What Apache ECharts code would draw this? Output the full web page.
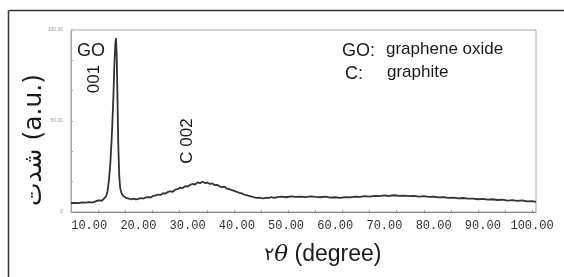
<!DOCTYPE html>
<html>
<head>
<meta charset="utf-8">
<script src="https://cdn.jsdelivr.net/npm/echarts@6/dist/echarts.min.js"></script>
<style>
  html, body { margin: 0; padding: 0; background: #fff; }
  #chart { width: 564px; height: 277px; }
</style>
</head>
<body>
<div id="chart"></div>
<script>
// 2-theta positions and intensity
const twoTheta = [
  6.3, 7, 7.8, 8.5, 9.2, 10, 10.7, 11.3, 11.8, 12.2, 12.6, 13.0, 13.4, 13.7, 14.0, 14.3, 14.6, 14.9,
  15.1, 15.3, 15.45, 15.6, 15.75, 15.9, 16.1, 16.3, 16.6, 17.0, 17.5, 18.0, 18.5, 19.0, 19.5, 20.0,
  20.5, 21, 21.5, 22, 22.5, 23, 23.5, 24, 24.5, 25, 25.5, 26, 26.5, 27, 27.5, 28, 28.5, 29, 29.5, 30,
  30.5, 31, 31.5, 32, 32.5, 33, 33.5, 34, 34.5, 35, 35.5, 36, 36.5, 37, 37.5, 38, 38.5, 39, 39.5, 40,
  40.5, 41, 41.5, 42, 42.5, 43, 43.5, 44, 44.5, 45, 45.5, 46, 46.5, 47, 47.5, 48, 49, 50, 51, 52, 53,
  54, 55, 56, 57, 58, 59, 60, 61, 62, 63, 64, 65, 66, 67, 68, 69, 70, 71, 72, 73, 74, 75, 76, 77, 78,
  79, 80, 81, 82, 83, 84, 85, 86, 87, 88, 89, 90, 91, 92, 93, 94, 95, 96, 97, 98, 99, 100, 100.8
];
const intensity = [
  4.8, 5.0, 4.9, 5.3, 5.1, 5.4, 5.3, 5.8, 6.4, 7.2, 6.3, 7.0, 8.5, 11, 17, 27, 42, 62,
  80, 92, 95.5, 85, 62, 38, 20, 13, 10, 8.6, 7.8, 7.4, 7.0, 7.3, 6.9, 7.2,
  7.6, 7.4, 8.0, 8.2, 8.0, 8.9, 9.1, 9.6, 9.4, 10.3, 10.1, 11.0, 11.4, 11.1, 12.3, 12.6, 13.4, 13.1, 14.2, 14.0,
  14.9, 15.4, 15.0, 16.3, 15.8, 16.6, 15.9, 16.2, 15.4, 15.7, 14.8, 14.9, 14.1, 13.6, 13.9, 12.8, 12.5, 12.0, 11.6, 11.1,
  10.5, 10.2, 9.6, 9.3, 8.8, 8.5, 8.1, 7.8, 7.9, 7.6, 7.5, 7.9, 7.7, 8.2, 7.8, 8.0, 8.4, 8.1, 8.6, 8.3, 8.5,
  8.2, 8.6, 8.3, 8.1, 8.4, 7.9, 8.1, 7.8, 8.2, 8.0, 8.4, 8.3, 8.7, 8.5, 8.9, 8.7, 9.1, 8.8, 9.2, 8.9, 9.0, 8.7, 8.9, 8.5, 8.7,
  8.3, 8.4, 8.0, 8.2, 7.8, 7.9, 7.5, 7.7, 7.3, 7.4, 7.0, 7.2, 6.8, 7.0, 6.6, 6.8, 6.3, 6.5, 6.1, 6.4, 5.8, 6.0, 5.6
];
const xLabels = [10, 20, 30, 40, 50, 60, 70, 80, 90, 100];
const xTicks = [11.8, 17.3, 22.9, 28.4, 33.9, 39.4, 44.9, 50.4, 55.9, 61.4, 66.9, 72.4, 78.0, 83.5, 89.0, 94.5, 100];
const yLabels = [0, 50, 100];
const yTicks = [0, 16.67, 33.33, 50, 66.67, 83.33, 100];

const chart = echarts.init(document.getElementById("chart"), null, { renderer: "canvas" });

const txt = "#1a1a1a";
const sans = "Liberation Sans, Arial, sans-serif";

const option = {
  backgroundColor: "#fff",
  animation: false,
  grid: {
    left: 71, top: 30, right: 28, bottom: 65,
    show: true, borderColor: "#a8a8a8", borderWidth: 1
  },
  xAxis: {
    type: "value",
    min: 6.3,
    max: 100.8,
    axisLine: { show: true, lineStyle: { color: "#8a8a8a", width: 1 } },
    axisTick: { show: true, inside: true, length: 2, customValues: xTicks, lineStyle: { color: "#999" } },
    splitLine: { show: false },
    axisLabel: {
      customValues: xLabels,
      formatter: (v) => v.toFixed(2),
      fontFamily: "Liberation Mono, monospace",
      fontSize: 12,
      color: "#333",
      margin: 8
    }
  },
  yAxis: {
    type: "value",
    min: 0,
    max: 100,
    axisLine: { show: true, lineStyle: { color: "#a8a8a8", width: 1 } },
    axisTick: { show: true, inside: true, length: 2, customValues: yTicks, lineStyle: { color: "#aaa" } },
    splitLine: { show: false },
    axisLabel: {
      customValues: yLabels,
      formatter: (v) => (v === 0 ? "0" : v.toFixed(2)),
      fontSize: 5,
      color: "#999",
      margin: 8
    }
  },
  series: [
    {
      type: "line",
      data: twoTheta.map((t, i) => [t, intensity[i]]),
      showSymbol: false,
      lineStyle: { color: "#333", width: 1.8 }
    }
  ],
  graphic: [
    {
      type: "line", silent: true,
      shape: { x1: 8.5, y1: 10.5, x2: 564, y2: 10.5 },
      style: { stroke: "#333", lineWidth: 1.5 }
    },
    {
      type: "line", silent: true,
      shape: { x1: 8.5, y1: 10.5, x2: 8.5, y2: 277 },
      style: { stroke: "#333", lineWidth: 1.5 }
    },
    {
      type: "text", left: 77, top: 42,
      style: { text: "GO", font: "18px " + sans, fill: txt }
    },
    {
      type: "text", x: 94, y: 79, rotation: Math.PI / 2,
      style: { text: "001", font: "17px " + sans, fill: txt, align: "center", verticalAlign: "middle" }
    },
    {
      type: "text", x: 187, y: 141, rotation: Math.PI / 2,
      style: { text: "C 002", font: "17px " + sans, fill: txt, align: "center", verticalAlign: "middle" }
    },
    {
      type: "text", x: 342, y: 51,
      style: { text: "GO:", font: "18px " + sans, fill: txt, verticalAlign: "middle" }
    },
    {
      type: "text", x: 386, y: 49,
      style: { text: "graphene oxide", font: "17px " + sans, fill: txt, verticalAlign: "middle" }
    },
    {
      type: "text", x: 345, y: 74,
      style: { text: "C:", font: "18px " + sans, fill: txt, verticalAlign: "middle" }
    },
    {
      type: "text", x: 387, y: 72,
      style: { text: "graphite", font: "17px " + sans, fill: txt, verticalAlign: "middle" }
    },
    {
      type: "text", x: 34, y: 140, rotation: Math.PI / 2,
      style: { text: "شدت (a.u.)", font: "25px DejaVu Sans, " + sans, fill: txt, align: "center", verticalAlign: "middle" }
    },
    {
      type: "text", x: 323, y: 255,
      style: {
        text: "{d|۲}{t|θ}{n| (degree)}",
        align: "center", verticalAlign: "middle",
        rich: {
          d: { font: "18px DejaVu Sans, sans-serif", fill: txt },
          t: { font: "italic 23px DejaVu Serif, serif", fill: txt },
          n: { font: "23px " + sans, fill: txt }
        }
      }
    }
  ]
};

chart.setOption(option);
</script>
</body>
</html>
